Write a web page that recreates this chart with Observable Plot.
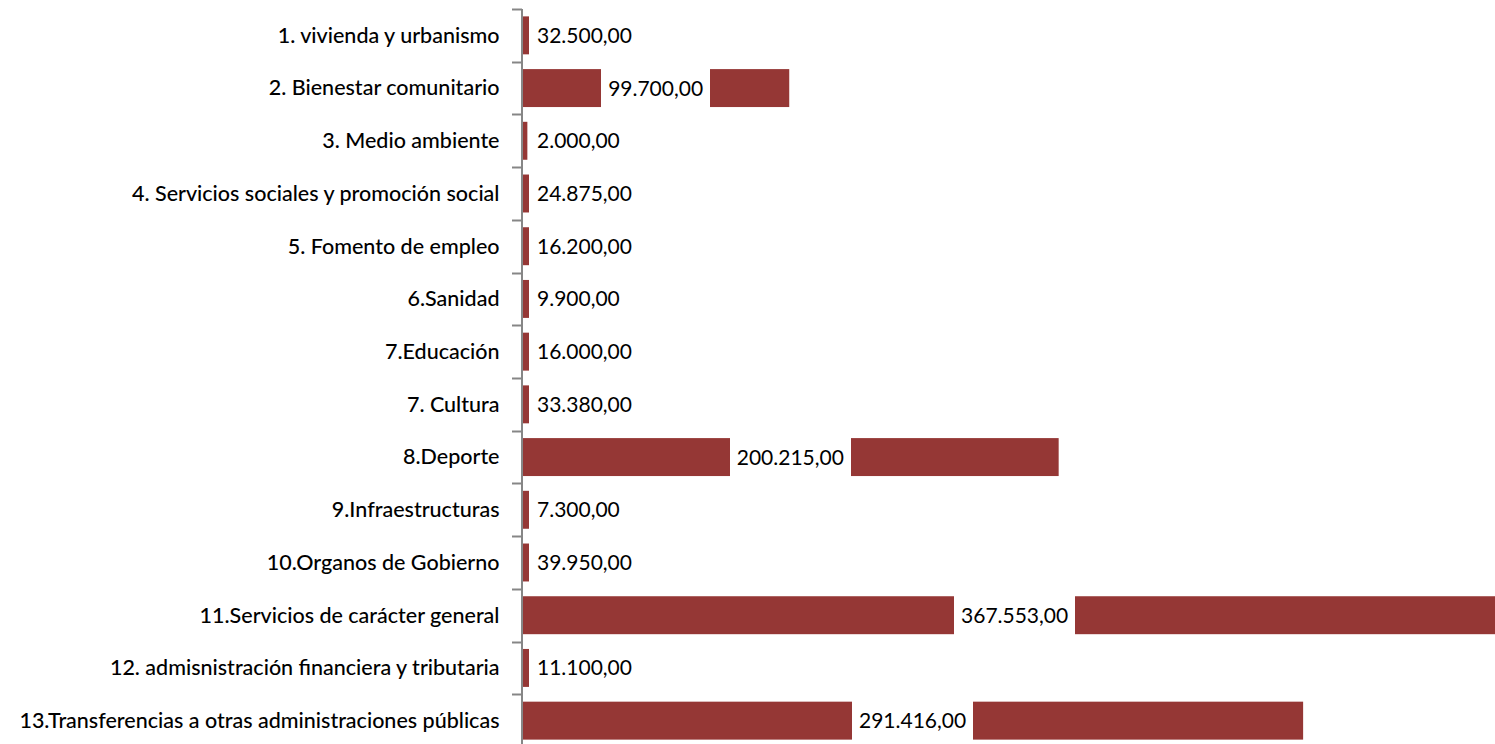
<!DOCTYPE html>
<html><head><meta charset="utf-8">
<script src="https://cdn.jsdelivr.net/npm/d3@7"></script>
<script src="https://cdn.jsdelivr.net/npm/@observablehq/plot@0.6"></script>
<style>html,body{margin:0;padding:0;background:#fff;overflow:hidden}</style>
</head><body><div id="chart"></div>
<script>
const categories = [
  "1. vivienda y urbanismo",
  "2. Bienestar comunitario",
  "3. Medio ambiente",
  "4. Servicios sociales y promoción social",
  "5. Fomento de empleo",
  "6.Sanidad",
  "7.Educación",
  "7. Cultura",
  "8.Deporte",
  "9.Infraestructuras",
  "10.Organos de Gobierno",
  "11.Servicios de carácter general",
  "12. admisnistración financiera y tributaria",
  "13.Transferencias a otras administraciones públicas"
];
const values = [32500, 99700, 2000, 24875, 16200, 9900, 16000, 33380, 200215, 7300, 39950, 367553, 11100, 291416];

const data = categories.map((c, i) => ({cat: c, value: values[i]}));
const es = d3.formatLocale({decimal: ",", thousands: ".", grouping: [3], currency: ["", "€"]});
const fmt = es.format(",.2f");

const barColor = "#953735";
const axisColor = "#868686";
const valueFontSize = 21;
const valueFontFamily = "Lato";
const catFontSize = 21.5;

const ctx = document.createElement("canvas").getContext("2d");
ctx.font = `${valueFontSize}px ${valueFontFamily}`;

function getStep(y) {
  return typeof y.step === "function" ? y.step() : y.bandwidth() / 0.72;
}

// value labels with white boxes (Excel style)
function valueLabels(index, scales, vals, dims) {
  const {x, y} = scales;
  const bw = y.bandwidth();
  const g = d3.create("svg:g");
  for (const d of data) {
    const x0 = x(0), x1 = x(d.value);
    const yc = y(d.cat) + bw / 2;
    const label = fmt(d.value);
    const tw = ctx.measureText(label).width;
    const pad = 7;
    let bx, bwid, tx;
    if (x1 - x0 >= tw + 2 * pad + 10) {
      const cx = (x0 + x1) / 2;
      bx = cx - tw / 2 - pad; bwid = tw + 2 * pad; tx = cx - tw / 2;
    } else {
      bx = x0 + pad; tx = x0 + 2 * pad + 1; bwid = (tx + tw + 6) - bx;
    }
    const bh = bw + 2;
    g.append("rect").attr("x", Math.round(bx)).attr("y", Math.floor(yc - bh / 2))
      .attr("width", Math.round(bwid)).attr("height", Math.ceil(bh) + 1).attr("fill", "#fff");
    g.append("text").attr("x", tx).attr("y", yc).attr("dy", "0.36em")
      .attr("text-anchor", "start")
      .attr("font-family", valueFontFamily).attr("font-size", valueFontSize)
      .attr("fill", "#000").text(label);
  }
  return g.node();
}

// Category axis line with ticks at band boundaries
function categoryAxis(index, scales, vals, dims) {
  const y = scales.y;
  const step = getStep(y);
  const bw = y.bandwidth();
  const top = y(categories[0]) - (step - bw) / 2;
  const n = categories.length;
  const xa = dims.marginLeft;
  const g = d3.create("svg:g").attr("stroke", axisColor).attr("fill", "none");
  g.append("line").attr("x1", xa).attr("x2", xa).attr("y1", top).attr("y2", top + n * step).attr("stroke-width", 2);
  for (let k = 0; k <= n; k++) {
    const yy = Math.round(top + k * step) + 0.5;
    g.append("line").attr("x1", xa - 10).attr("x2", xa).attr("y1", yy).attr("y2", yy).attr("stroke-width", 2);
  }
  return g.node();
}

const chart = Plot.plot({
  width: 1495,
  height: 747,
  marginLeft: 522,
  marginRight: 0,
  marginTop: 9,
  marginBottom: 0,
  style: {background: "#fff"},
  x: {domain: [0, 363000], axis: null},
  y: {domain: categories, paddingInner: 0.28, paddingOuter: 0.14, round: false, axis: null},
  marks: [
    Plot.barX(data, {y: "cat", x: "value", fill: barColor, clip: true}),
    valueLabels,
    categoryAxis,
    Plot.text(data, {y: "cat", text: "cat", frameAnchor: "left", textAnchor: "end", dx: -23,
      fontSize: catFontSize, fontFamily: "Lato", fontWeight: 500, fill: "#000"})
  ]
});
document.getElementById("chart").appendChild(chart);
</script>
</body></html>
